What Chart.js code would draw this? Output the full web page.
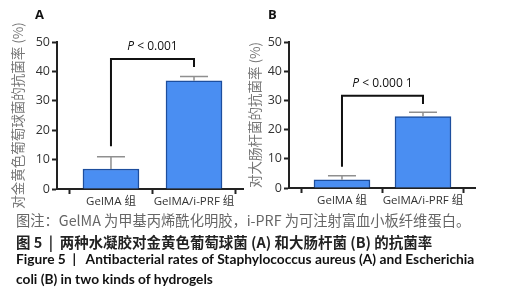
<!DOCTYPE html>
<html>
<head>
<meta charset="utf-8">
<script src="https://cdn.jsdelivr.net/npm/chart.js@4"></script>
<style>
  body { margin: 0; background: #fff; }
  #page { position: relative; width: 512px; height: 300px; overflow: hidden; }
  canvas { position: absolute; top: 0; }
  .lbl { position: absolute; white-space: nowrap; line-height: 20px; }
  .panel { font: bold 13px "Open Sans", sans-serif; color: #111; }
  .note { left: 16px; font: 13.4px "Noto Sans CJK SC", sans-serif; color: #666; }
  .cap { left: 16px; font: bold 14.3px "Noto Sans CJK SC", sans-serif; color: #222; }
  .en { left: 16px; font: bold 13px Lato, sans-serif; color: #111; }
</style>
</head>
<body>
<div id="page">
  <canvas id="chartA" width="256" height="212" style="left:0"></canvas>
  <canvas id="chartB" width="282" height="212" style="left:230px"></canvas>
  <div class="lbl panel" style="left:35px; top:5px">A</div>
  <div class="lbl panel" style="left:268px; top:5px">B</div>
  <div class="lbl note" id="line1" style="top:209px">图注：GelMA 为甲基丙烯酰化明胶，i-PRF 为可注射富血小板纤维蛋白。</div>
  <div class="lbl cap" id="line2" style="top:231px">图 5 &nbsp;|&nbsp; 两种水凝胶对金黄色葡萄球菌 (A) 和大肠杆菌 (B) 的抗菌率</div>
  <div class="lbl en" id="line3" style="top:250px">Figure 5 &nbsp;|&nbsp;&nbsp; Antibacterial rates of Staphylococcus aureus (A) and Escherichia</div>
  <div class="lbl en" id="line4" style="top:270px">coli (B) in two kinds of hydrogels</div>
</div>
<script>
// data
const groups = ['GelMA 组', 'GelMA/i-PRF 组'];
const yTicks = [0, 10, 20, 30, 40, 50];

// A: Staphylococcus aureus
const meanA = [6.8, 36.8];
const sdA = [4.2, 1.5];
const bracketA = [14.5, 44.2, 41.5];   // left foot, top, right foot
const pA = ' < 0.001';

// B: Escherichia coli
const meanB = [2.8, 24.5];
const sdB = [1.4, 1.4];
const bracketB = [7.3, 31.6, 28.8];
const pB = ' < 0.000 1';

const barFill = '#4a8ef2';
const barLine = '#1d4e9e';
const axisCol = '#222';

// size caption lines to the width they take in the figure
function fitWidth(id, target) {
    var el = document.getElementById(id);
    var size = parseFloat(getComputedStyle(el).fontSize);
    size = size * target / el.offsetWidth;
    el.style.fontSize = size + 'px';
    return size;
}
fitWidth('line1', 454);
fitWidth('line2', 416);
document.getElementById('line4').style.fontSize = fitWidth('line3', 459) + 'px';

// error bars + significance bracket
const annotate = {
    id: 'annotate',
    afterDatasetsDraw(chart, args, opts) {
        const ctx = chart.ctx;
        const x = chart.scales.x, y = chart.scales.y;
        ctx.save();
        ctx.strokeStyle = '#8f8f8f';
        ctx.lineWidth = 1.5;
        opts.mean.forEach((m, i) => {
            const px = x.getPixelForValue(i + 1);
            const top = y.getPixelForValue(m + opts.sd[i]);
            ctx.beginPath();
            ctx.moveTo(px, y.getPixelForValue(m));
            ctx.lineTo(px, top);
            ctx.moveTo(px - 14, top);
            ctx.lineTo(px + 14, top);
            ctx.stroke();
        });
        const x1 = x.getPixelForValue(1), x2 = x.getPixelForValue(2);
        const b = opts.bracket;
        ctx.strokeStyle = '#111';
        ctx.lineWidth = 2;
        ctx.beginPath();
        ctx.moveTo(x1, y.getPixelForValue(b[0]));
        ctx.lineTo(x1, y.getPixelForValue(b[1]));
        ctx.lineTo(x2, y.getPixelForValue(b[1]));
        ctx.lineTo(x2, y.getPixelForValue(b[2]));
        ctx.stroke();
        // label with italic P
        const ty = y.getPixelForValue(b[1]) - 12;
        ctx.fillStyle = '#111';
        ctx.textBaseline = 'middle';
        ctx.font = 'italic 12px "Open Sans", sans-serif';
        const wP = ctx.measureText('P').width;
        ctx.font = '12px "Open Sans", sans-serif';
        const wR = ctx.measureText(opts.p).width;
        const sx = (x1 + x2) / 2 - (wP + wR) / 2;
        ctx.font = 'italic 12px "Open Sans", sans-serif';
        ctx.fillText('P', sx, ty);
        ctx.font = '12px "Open Sans", sans-serif';
        ctx.fillText(opts.p, sx + wP, ty);
        ctx.restore();
    }
};

function makeChart(id, means, sd, bracket, p, title, xMin, xMax, yWidth, xHeight, pad, titlePad) {
    var ctx = document.getElementById(id).getContext('2d');
    return new Chart(ctx, {
        type: 'bar',
        data: {
            datasets: [{
                data: means.map((v, i) => ({ x: i + 1, y: v })),
                backgroundColor: barFill,
                borderColor: barLine,
                borderWidth: 1.5,
                barThickness: 56
            }]
        },
        options: {
            responsive: false,
            animation: false,
            layout: { padding: pad, autoPadding: false },
            plugins: {
                legend: { display: false },
                tooltip: { enabled: false },
                annotate: { mean: means, sd: sd, bracket: bracket, p: p }
            },
            scales: {
                x: {
                    type: 'linear',
                    min: xMin,
                    max: xMax,
                    offset: false,
                    afterBuildTicks: axis => { axis.ticks = groups.map((g, i) => ({ value: i + 1 })); },
                    afterFit: axis => { axis.height = xHeight; axis.paddingLeft = 0; axis.paddingRight = 0; },
                    ticks: {
                        autoSkip: false,
                        maxRotation: 0,
                        padding: 1,
                        color: '#333',
                        font: { family: '"Open Sans", "Noto Sans CJK SC", sans-serif', size: 11.5 },
                        callback: v => groups[v - 1]
                    },
                    grid: { drawOnChartArea: false, tickLength: 5, tickColor: axisCol, tickWidth: 2 },
                    border: { color: axisCol, width: 2 }
                },
                y: {
                    min: 0,
                    max: 50,
                    afterBuildTicks: axis => { axis.ticks = yTicks.map(v => ({ value: v })); },
                    afterFit: axis => { axis.width = yWidth; axis.paddingTop = 0; axis.paddingBottom = 0; },
                    ticks: {
                        padding: 2,
                        color: '#333',
                        font: { family: '"Open Sans", sans-serif', size: 12.5 }
                    },
                    grid: { drawOnChartArea: false, tickLength: 5, tickColor: axisCol, tickWidth: 2 },
                    border: { color: axisCol, width: 2 },
                    title: {
                        display: true,
                        text: title,
                        color: '#777',
                        padding: { top: titlePad, bottom: 0 },
                        font: { family: '"Noto Sans CJK SC", sans-serif', size: 13.5 }
                    }
                }
            }
        },
        plugins: [annotate]
    });
}

var chartA = makeChart('chartA', meanA, sdA, bracketA, pA, '对金黄色葡萄球菌的抗菌率 (%)',
    0.35, 2.59, 57, 23, { top: 42, right: 13, left: 0, bottom: 0 }, 10);
var chartB = makeChart('chartB', meanB, sdB, bracketB, pB, '对大肠杆菌的抗菌率 (%)',
    0.346, 2.642, 59, 24, { top: 42, right: 37, left: 0, bottom: 0 }, 17);
</script>
</body>
</html>
